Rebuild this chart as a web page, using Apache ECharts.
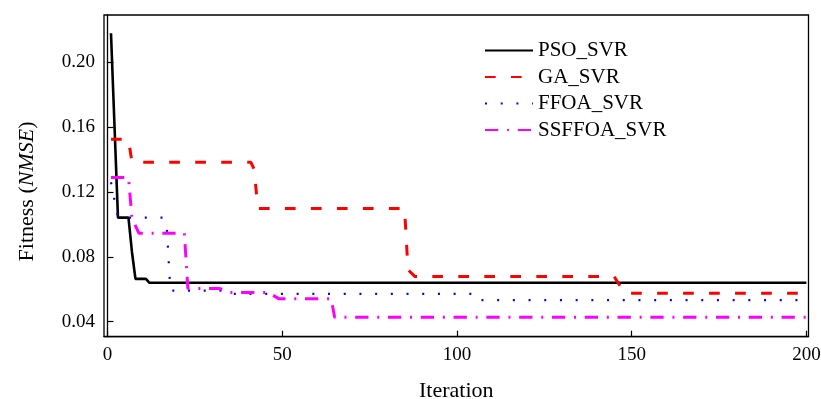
<!DOCTYPE html>
<html>
<head>
<meta charset="utf-8">
<script src="https://cdn.jsdelivr.net/npm/echarts@6/dist/echarts.min.js"></script>
<style>
html,body{margin:0;padding:0;background:#fff;}
#chart{width:821px;height:399px;}
</style>
</head>
<body>
<div id="chart"></div>
<script>
// Breakpoints [iteration, fitness] of each convergence curve
var psoSvr = [[1,0.218],[3,0.1042],[6,0.1042],[7,0.083],[8,0.0664],[11,0.0664],[12,0.0640],[200,0.0640]];
var gaSvr = [[1,0.1526],[6,0.1526],[7,0.1384],[41,0.1384],[42,0.1340],[43,0.1098],[85,0.1098],[86,0.0720],[88,0.0678],[145,0.0678],[148,0.0575],[200,0.0575]];
var ffoaSvr = [[1,0.126],[3,0.1042],[16,0.1042],[17,0.097],[18,0.0591],[34,0.0591],[35,0.0571],[105,0.0571],[106,0.0533],[200,0.0533]];
var ssffoaSvr = [[1,0.129],[6,0.129],[7,0.104],[9,0.0945],[22,0.0945],[23,0.0605],[32,0.0605],[35,0.0580],[46,0.0580],[49,0.0542],[64,0.0542],[65,0.0427],[200,0.0427]];
var seriesNames = ['PSO_SVR','GA_SVR','FFOA_SVR','SSFFOA_SVR'];
var xTicks = [0,50,100,150,200];
var yTicks = [0.04,0.08,0.12,0.16,0.20];

var FONT = 'Liberation Serif';
var chart = echarts.init(document.getElementById('chart'));
function mk(name, data, color, width, type) {
  return {
    name: name, type: 'line', data: data, symbol: 'none', showSymbol: false,
    lineStyle: {color: color, width: width, type: type, cap: 'butt'},
    itemStyle: {color: color},
    animation: false, z: 3
  };
}
chart.setOption({
  animation: false,
  grid: {left: 104, right: 12.5, top: 15, bottom: 62.3, show: true, borderColor: '#000', borderWidth: 1.3,
    backgroundColor: 'transparent', containLabel: false, outerBoundsMode: 'none'},
  legend: {
    orient: 'vertical', left: 484, top: 40, padding: 0, itemWidth: 48, itemHeight: 14, itemGap: 5.5,
    data: seriesNames,
    itemStyle: {opacity: 0},
    textStyle: {fontFamily: FONT, fontSize: 21, color: '#000', lineHeight: 21}
  },
  xAxis: {
    type: 'value', min: -1, max: 200.6,
    name: 'Iteration', nameLocation: 'middle', nameGap: 44,
    nameTextStyle: {fontFamily: FONT, fontSize: 22, color: '#000'},
    axisLine: {lineStyle: {color: '#000', width: 1.3}},
    axisTick: {inside: true, length: 6, customValues: xTicks, lineStyle: {color: '#000', width: 1.2}},
    axisLabel: {customValues: xTicks, fontFamily: FONT, fontSize: 19, color: '#000', margin: 9},
    splitLine: {show: false}
  },
  yAxis: {
    type: 'value', min: 0.0307, max: 0.2293,
    axisLine: {show: true, lineStyle: {color: '#000', width: 1.3}},
    axisTick: {show: true, inside: true, length: 6, customValues: yTicks, lineStyle: {color: '#000', width: 1.2}},
    axisLabel: {customValues: yTicks, fontFamily: FONT, fontSize: 19, color: '#000', margin: 9,
      formatter: function (v) { return v.toFixed(2); }},
    splitLine: {show: false}
  },
  graphic: [{
    type: 'text', x: 27, y: 191.5, rotation: Math.PI / 2,
    style: {
      text: 'Fitness ({i|NMSE})', fontFamily: FONT, fontSize: 22, fill: '#000',
      align: 'center', verticalAlign: 'middle',
      rich: {i: {fontFamily: FONT, fontSize: 22, fontStyle: 'italic', fill: '#000'}}
    }
  }],
  series: [
    mk(seriesNames[0], psoSvr, '#000000', 2.6, 'solid'),
    mk(seriesNames[1], gaSvr, '#ff0000', 3, [10.7, 15.3]),
    mk(seriesNames[2], ffoaSvr, '#0000ff', 2.2, [2, 13.7]),
    mk(seriesNames[3], ssffoaSvr, '#ff00ff', 3, [13.3, 8.8, 2, 8.7])
  ]
});
</script>
</body>
</html>
